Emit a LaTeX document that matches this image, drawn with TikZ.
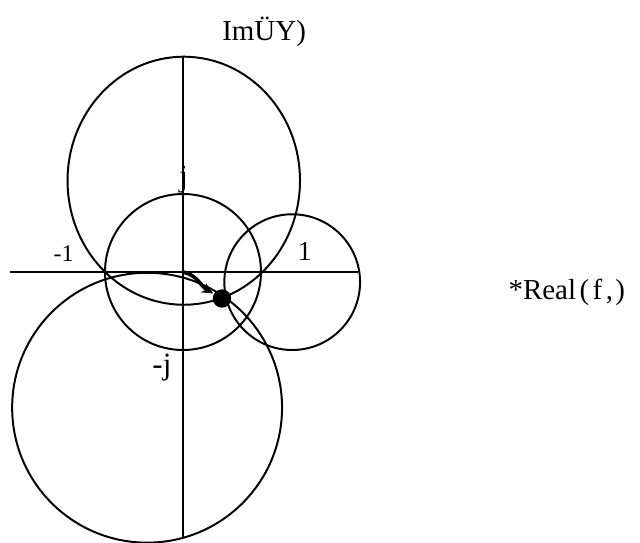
\documentclass[tikz,border=0pt]{standalone}
\usepackage{fontspec}
\setmainfont{Liberation Serif}
\usetikzlibrary{arrows.meta,positioning,calc}

\begin{document}
\begin{tikzpicture}[x=1.95cm, y=1.95cm, line width=1.4pt, axis line/.style={line width=1.5pt}, circle line/.style={line width=1.4pt}, axis label/.style={anchor=base, inner sep=0pt, font=\fontsize{17pt}{19pt}\selectfont}, title label/.style={anchor=base, inner sep=0pt, font=\fontsize{20.6pt}{24pt}\selectfont}]
\useasboundingbox (-2.346,-3.462) rectangle (5.859,3.487);
% axes
\coordinate (O) at (0,0);
\coordinate (W) at (-2.22,0);
\coordinate (E) at (2.24,0);
\coordinate (N) at (0,2.76);
\coordinate (S) at (0,-3.41);
\draw[axis line] (W) -- (E);
\draw[axis line] (N) -- (S);
% circles
\draw[circle line] (0.01,1.17) ellipse [x radius=1.49, y radius=1.59];
\draw[circle line] (O) circle [radius=1];
\draw[circle line] (1.40,-0.13) circle [radius=0.87];
\draw[circle line] (-0.46,-1.74) circle [radius=1.73];
% moving point
\node[circle, fill, inner sep=0pt, minimum width=0.42cm, minimum height=0.46cm] (pt) at (0.5,-0.34) {};
\draw[line width=2.6pt, -{Stealth[length=0.28cm, width=0.26cm]}] (O) to[out=-12, in=150] (pt);
% labels
\node[axis label] (mone) at (-1.53,0.13) {-1};
\node[axis label, font=\fontsize{19.5pt}{21pt}\selectfont] (one) at (1.56,0.15) {1};
\node[axis label, font=\fontsize{22pt}{24pt}\selectfont] (pj) at (0.01,1.10) {j};
\node[axis label, font=\fontsize{22pt}{24pt}\selectfont] (mj) at (-0.27,-1.32) {-j};
\node[title label] (imag) at (1.04,2.97) {ImÜY)};
\node[title label] (real) at (4.92,-0.35) {*Real\hspace{0.12em}(\hspace{0.12em}f\hspace{0.12em},\hspace{0.08em})};
\end{tikzpicture}
\end{document}
